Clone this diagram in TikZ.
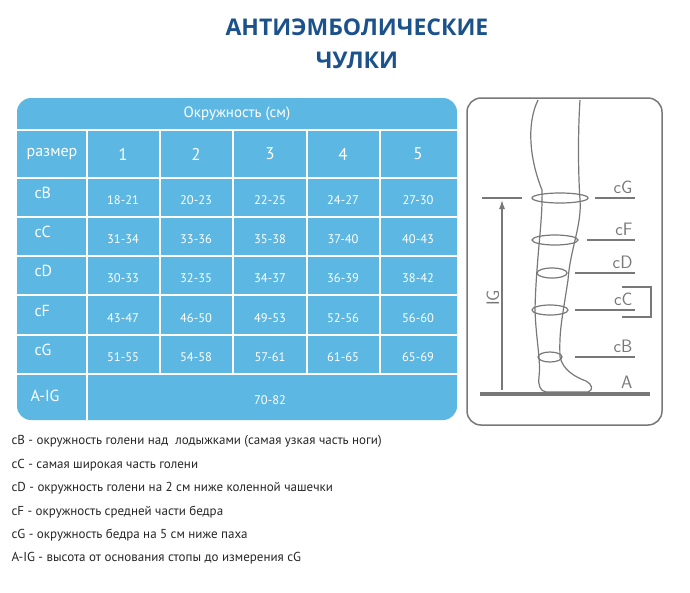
\documentclass[tikz,border=0pt]{standalone}
\usepackage{fontspec}
\setmainfont{PT Sans}
\newfontfamily\titlefont{Open Sans}
\usetikzlibrary{arrows.meta}
\definecolor{tab_blue}{RGB}{92,184,226}
\definecolor{title_blue}{RGB}{28,82,140}
\definecolor{leg_gray}{RGB}{120,120,120}
\begin{document}
\begin{tikzpicture}[x=1pt,y=-1pt]
    \tikzstyle{head}=[text=white, font=\fontsize{15}{17}\selectfont]
    \tikzstyle{val}=[text=white, font=\fontsize{12.5}{14}\selectfont]
    \tikzstyle{ring}=[draw=leg_gray, line width=1.2pt]
    \tikzstyle{lbl}=[text=leg_gray, font=\sffamily\fontsize{18}{20}\selectfont, anchor=base east]
    \tikzstyle{legend}=[anchor=west, text=black!85, font=\fontsize{13}{15}\selectfont]
    \useasboundingbox (0,0) rectangle (690,592);

    % title
    \node[text=title_blue, font=\titlefont\bfseries\fontsize{23}{26}\selectfont] (t1) at (357,27) {АНТИЭМБОЛИЧЕСКИЕ};
    \node[text=title_blue, font=\titlefont\bfseries\fontsize{23}{26}\selectfont] (t2) at (357,60) {ЧУЛКИ};

    % table
    \fill[tab_blue, rounded corners=14pt] (17,98) rectangle (457,420);
    \node[head] (circ) at (237,114) {Окружность (см)};
    \foreach \y in {130,178,217,256,295,335,374} {
      \draw[white, line width=2.5pt] (17,\y) -- (457,\y);
    }
    \foreach \x in {160,233,307,380} {
      \draw[white, line width=2.5pt] (\x,130) -- (\x,374);
    }
    \draw[white, line width=2.5pt] (87,130) -- (87,420);
    \node[head, font=\fontsize{16}{18}\selectfont] (razm) at (52,154) {размер};
    \foreach \n/\x in {1/123,2/196,3/270,4/343,5/418} {
      \node[head, font=\fontsize{17}{19}\selectfont] (s\n) at (\x,154) {\n};
    }
    \foreach \name/\y/\a/\b/\c/\d/\e in {
        cB/197/18-21/20-23/22-25/24-27/27-30,
        cC/236/31-34/33-36/35-38/37-40/40-43,
        cD/275/30-33/32-35/34-37/36-39/38-42,
        cF/315/43-47/46-50/49-53/52-56/56-60,
        cG/354/51-55/54-58/57-61/61-65/65-69} {
      \node[head, font=\fontsize{16}{18}\selectfont, anchor=west] (r\name) at (31,\y-4) {\name};
      \node[val] (\name1) at (123,\y+3) {\a};
      \node[val] (\name2) at (196,\y+3) {\b};
      \node[val] (\name3) at (270,\y+3) {\c};
      \node[val] (\name4) at (343,\y+3) {\d};
      \node[val] (\name5) at (418,\y+3) {\e};
    }
    \node[head, font=\fontsize{16}{18}\selectfont, anchor=west] (raig) at (27,396) {A-IG};
    \node[val] (aig) at (270,400) {70-82};

    % leg panel
    \draw[leg_gray, line width=1.5pt, rounded corners=14pt] (467,98) rectangle (662,425);
    \draw[ring] (538,100) .. controls (526,125) and (530,160) .. (542,190)
        .. controls (543,220) and (536,260) .. (535,310)
        .. controls (536,340) and (541,360) .. (539,377)
        .. controls (538,385) and (540,391) .. (546,392) -- (588,392)
        .. controls (594,390) and (592,384) .. (586,381)
        .. controls (575,377) and (563,370) .. (560,357)
        .. controls (559,330) and (562,320) .. (568,280)
        .. controls (570,250) and (582,225) .. (580,200)
        .. controls (578,170) and (578,130) .. (580,100);
    \draw[ring] (560,198) ellipse (28 and 5);
    \draw[ring] (555,240) ellipse (23 and 5);
    \draw[ring] (552,273) ellipse (15 and 5);
    \draw[ring] (550,310) ellipse (18 and 5);
    \draw[ring] (550,357) ellipse (12 and 5);
    \foreach \name/\x/\y in {cG/595/198, cF/587/240, cD/575/273, cC/575/310, cB/575/357} {
      \draw[ring] (\x,\y) -- (635,\y);
      \node[lbl] (l\name) at (636,\y-5) {\name};
    }
    \draw[ring] (622,287) -- (651,287) -- (651,317) -- (622,317);
    \node[lbl] (lA) at (636,388) {A};
    \draw[ring] (482,198) -- (522,198);
    \draw[leg_gray, line width=4pt] (480,394) -- (650,394);
    \coordinate (ig0) at (502,390);
    \coordinate (ig1) at (502,200);
    \draw[ring, -{Latex[length=9pt,width=6pt]}] (ig0) -- (ig1);
    \node[text=leg_gray, font=\sffamily\fontsize{18}{20}\selectfont, rotate=90] (lig) at (493,298) {IG};

    % legend
    \node[legend] (d1) at (8,441) {cB - окружность голени над \ лодыжками (самая узкая часть ноги)};
    \node[legend] (d2) at (8,465) {cC - самая широкая часть голени};
    \node[legend] (d3) at (8,488) {cD - окружность голени на 2 см ниже коленной чашечки};
    \node[legend] (d4) at (8,512) {cF - окружность средней части бедра};
    \node[legend] (d5) at (8,535) {cG - окружность бедра на 5 см ниже паха};
    \node[legend] (d6) at (8,558) {A-IG - высота от основания стопы до измерения cG};
  \end{tikzpicture}
\end{document}
